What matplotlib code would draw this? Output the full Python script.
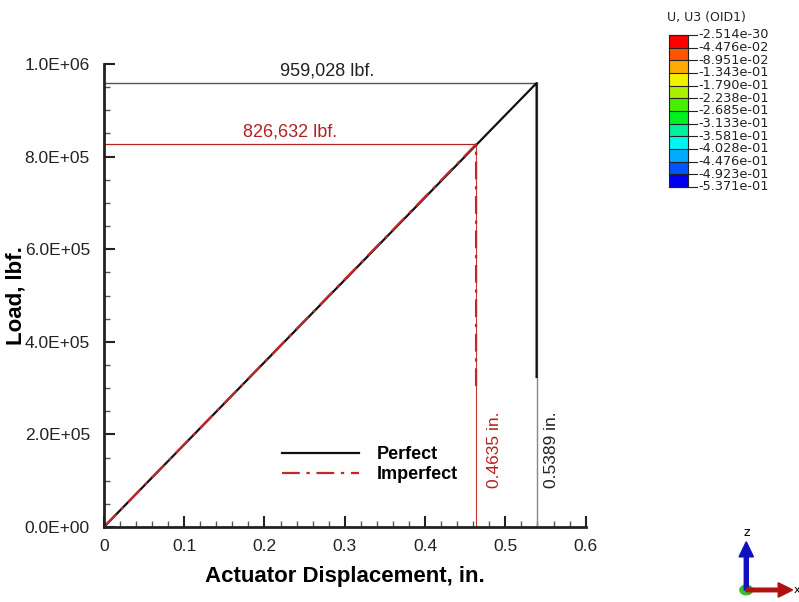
import numpy as np
import matplotlib.pyplot as plt
from matplotlib.patches import Rectangle, FancyArrow

plt.rcParams['font.family'] = ['Liberation Sans', 'DejaVu Sans']

# load-displacement curves
perfect_disp = [0.0, 0.5389, 0.5389]
perfect_load = [0.0, 959028.0, 324000.0]
imperfect_disp = [0.0, 0.4635, 0.4635]
imperfect_load = [0.0, 826632.0, 300000.0]

peak_perfect = (0.5389, 959028.0)
peak_imperfect = (0.4635, 826632.0)

# contour legend (U3)
cb_labels = ['-2.514e-30', '-4.476e-02', '-8.951e-02', '-1.343e-01', '-1.790e-01',
             '-2.238e-01', '-2.685e-01', '-3.133e-01', '-3.581e-01', '-4.028e-01',
             '-4.476e-01', '-4.923e-01', '-5.371e-01']
cb_colors = ['#ff0000', '#ff5500', '#ffaa00', '#f2f200', '#aaf000', '#44f000',
             '#00f020', '#00f0a0', '#00f5f0', '#00aaff', '#0055ff', '#0000f0']

fig = plt.figure(figsize=(7.99, 6.02), dpi=100)
ax = fig.add_axes([0.130, 0.1246, 0.603, 0.769])

# annotation guide lines
ax.plot([0, peak_perfect[0]], [peak_perfect[1]] * 2, color='#555555', lw=1.0)
ax.plot([peak_perfect[0]] * 2, [0, peak_perfect[1]], color='#888888', lw=1.0)
ax.plot([0, peak_imperfect[0]], [peak_imperfect[1]] * 2, color='#b22222', lw=0.9)
ax.plot([peak_imperfect[0]] * 2, [0, peak_imperfect[1]], color='#c0392b', lw=0.8)

ax.plot(perfect_disp, perfect_load, color='#111111', lw=1.6, label='Perfect')
ax.plot(imperfect_disp, imperfect_load, color='#c0282d', lw=1.6,
        dashes=[8, 3, 1.5, 3], label='Imperfect')

ax.text(0.278, peak_perfect[1] + 8000, '959,028 lbf.', ha='center', va='bottom',
        fontsize=13, color='#222222')
ax.text(peak_imperfect[0] / 2, peak_imperfect[1] + 8000, '826,632 lbf.', ha='center',
        va='bottom', fontsize=13, color='#b22222')
ax.text(0.487, 166000, '0.4635 in.', rotation=90, ha='center', va='center',
        fontsize=12.5, color='#b22222')
ax.text(0.558, 166000, '0.5389 in.', rotation=90, ha='center', va='center',
        fontsize=12.5, color='#222222')

ax.set_xlim(0, 0.6)
ax.set_ylim(0, 1.0e6)
ax.set_xticks(np.arange(0, 0.61, 0.1))
ax.set_xticklabels(['0', '0.1', '0.2', '0.3', '0.4', '0.5', '0.6'])
ax.set_xticks(np.arange(0, 0.601, 0.02), minor=True)
yt = np.arange(0, 1.01e6, 2e5)
ax.set_yticks(yt)
ax.set_yticklabels(['%.1E' % v for v in yt])
ax.set_yticks(np.arange(0, 1.001e6, 5e4), minor=True)
ax.tick_params(which='major', direction='in', length=8, width=1.5, labelsize=12.5,
               colors='#222222')
ax.tick_params(which='minor', direction='in', length=4, width=1.0, colors='#555555')
ax.tick_params(axis='x', which='major', pad=9)
ax.tick_params(axis='y', which='major', pad=10)
for s in ['top', 'right']:
    ax.spines[s].set_visible(False)
for s in ['left', 'bottom']:
    ax.spines[s].set_linewidth(2)
    ax.spines[s].set_color('#222222')

ax.set_xlabel('Actuator Displacement, in.', fontsize=16, fontweight='bold', labelpad=8)
ax.set_ylabel('Load, lbf.', fontsize=16, fontweight='bold', labelpad=-1)

leg = ax.legend(loc='lower left', bbox_to_anchor=(0.335, 0.06), frameon=False,
                handlelength=4.3, handletextpad=1.0, labelspacing=0.15,
                prop={'size': 13, 'weight': 'bold'})

# contour legend box, drawn in pixel coordinates of the top-right corner
cax = fig.add_axes([660 / 799, 1 - 200 / 602, 139 / 799, 200 / 602])
cax.set_xlim(660, 799)
cax.set_ylim(200, 0)
cax.axis('off')
top, bot = 35.0, 187.0
h = (bot - top) / len(cb_colors)
for i, c in enumerate(cb_colors):
    cax.add_patch(Rectangle((669, top + i * h), 19, h, facecolor=c, edgecolor='none'))
cax.add_patch(Rectangle((669, top), 19, bot - top, facecolor='none',
                        edgecolor='#222222', lw=0.8))
for i, lab in enumerate(cb_labels):
    y = top + i * h
    cax.plot([669, 697], [y, y], color='#222222', lw=0.8)
    cax.text(698, y, lab, fontsize=9.3, va='center', ha='left',
             family='DejaVu Sans', color='#222222')
cax.text(667, 17, 'U, U3 (OID1)', fontsize=9, va='center', ha='left',
         family='DejaVu Sans', color='#222222')

# axis triad
fig.patches.append(FancyArrow(0.934, 0.02, 0, 0.055, width=0.005, head_width=0.018,
                              head_length=0.025, color='#1010c0',
                              transform=fig.transFigure, figure=fig))
fig.patches.append(FancyArrow(0.934, 0.02, 0.04, 0, width=0.006, head_width=0.024,
                              head_length=0.018, color='#b01010',
                              transform=fig.transFigure, figure=fig))
fig.add_artist(plt.Circle((0.934, 0.02), 0.008, color='#30c030',
                          transform=fig.transFigure))
fig.text(0.934, 0.115, 'z', fontsize=9, ha='center', va='center', family='DejaVu Sans')
fig.text(0.993, 0.02, 'x', fontsize=8, ha='left', va='center', family='DejaVu Sans')

fig.savefig('out.png', dpi=100)
